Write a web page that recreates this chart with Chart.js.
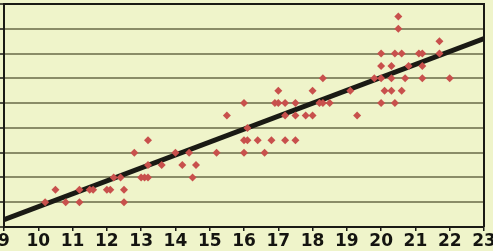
<!DOCTYPE html>
<html>
<head>
<meta charset="utf-8">
<script src="https://cdn.jsdelivr.net/npm/chart.js@4/dist/chart.umd.min.js"></script>
<style>
  html, body { margin: 0; padding: 0; background: #eff4ca; }
  #wrap { width: 493px; height: 251px; }
</style>
</head>
<body>
<div id="wrap"><canvas id="c" width="493" height="251"></canvas></div>
<script>
// Data
const xValues = [10.2,10.5,10.8,11.2,11.2,11.5,11.6,12.0,12.1,12.2,12.4,12.5,12.5,12.8,13.0,13.1,13.2,13.2,13.2,13.6,
  14.0,14.2,14.4,14.5,14.6,15.2,15.5,16.0,16.0,16.1,16.1,16.0,16.4,16.6,16.8,17.2,17.5,16.9,17.0,17.2,
  17.5,17.0,17.2,17.5,17.8,18.0,18.0,18.3,18.2,18.3,18.5,19.1,19.3,19.8,20.0,20.3,20.0,20.3,20.0,20.4,
  20.6,20.5,20.5,20.8,20.1,20.3,20.6,20.0,20.4,20.7,21.1,21.2,21.2,21.2,21.7,21.7,22.0];
const yValues = [2,3,2,3,2,3,3,3,3,4,4,3,2,6,4,4,4,5,7,5,
  6,5,6,4,5,6,9,6,7,7,8,10,7,6,7,7,7,10,10,10,
  10,11,9,9,9,9,11,12,10,10,10,11,9,12,12,12,13,13,14,14,
  14,16,17,13,11,11,11,10,10,12,14,14,13,12,15,14,12];
const trendX = [9, 23];
const trendY = [0.6, 15.2];
const xTicks = [9,10,11,12,13,14,15,16,17,18,19,20,21,22,23];

const points = xValues.map((x, i) => ({ x: x, y: yValues[i] }));
const trend = trendX.map((x, i) => ({ x: x, y: trendY[i] }));

const bgPlugin = {
  id: 'bg',
  beforeDraw(chart) {
    const ctx = chart.ctx;
    ctx.save();
    ctx.fillStyle = '#eff4ca';
    ctx.fillRect(0, 0, chart.width, chart.height);
    ctx.restore();
  },
  afterDatasetsDraw(chart) {
    const a = chart.chartArea, ctx = chart.ctx;
    ctx.save();
    ctx.strokeStyle = '#1a1a14';
    ctx.lineWidth = 2;
    ctx.beginPath();
    ctx.moveTo(a.left, a.top);
    ctx.lineTo(a.right, a.top);
    ctx.lineTo(a.right, a.bottom);
    ctx.stroke();
    ctx.restore();
  }
};

new Chart(document.getElementById('c'), {
  type: 'scatter',
  data: {
    datasets: [
      {
        data: points,
        pointStyle: 'rectRot',
        pointRadius: 4,
        pointBackgroundColor: '#c8504c',
        pointBorderColor: '#c8504c',
        pointBorderWidth: 0,
        showLine: false
      },
      {
        data: trend,
        showLine: true,
        borderColor: '#1a1a14',
        borderWidth: 5,
        pointRadius: 0,
        fill: false
      }
    ]
  },
  options: {
    responsive: false,
    animation: false,
    devicePixelRatio: 1,
    layout: { padding: { top: 1, right: 9, left: 0, bottom: 0 } },
    plugins: { legend: { display: false }, tooltip: { enabled: false } },
    scales: {
      x: {
        type: 'linear',
        min: 9, max: 23,
        afterBuildTicks(s) { s.ticks = xTicks.map(v => ({ value: v })); },
        afterFit(s) { s.height = 24; s.paddingLeft = 0; s.paddingRight = 0; },
        grid: { drawOnChartArea: false, drawTicks: true, tickLength: 4, color: '#1a1a14', lineWidth: 1.5 },
        border: { color: '#1a1a14', width: 2 },
        ticks: {
          padding: 0,
          color: '#141410',
          maxRotation: 0,
          autoSkip: false,
          font: { family: 'DejaVu Sans', weight: 'bold', size: 17 }
        }
      },
      y: {
        min: 0, max: 18,
        afterFit(s) { s.width = 4; s.paddingTop = 0; s.paddingBottom = 0; },
        ticks: { display: false, stepSize: 2 },
        grid: { color: '#8a8c68', lineWidth: 2, drawTicks: true, tickLength: 4, tickColor: '#1a1a14', tickWidth: 1.5 },
        border: { color: '#1a1a14', width: 2 }
      }
    }
  },
  plugins: [bgPlugin]
});
</script>
</body>
</html>
